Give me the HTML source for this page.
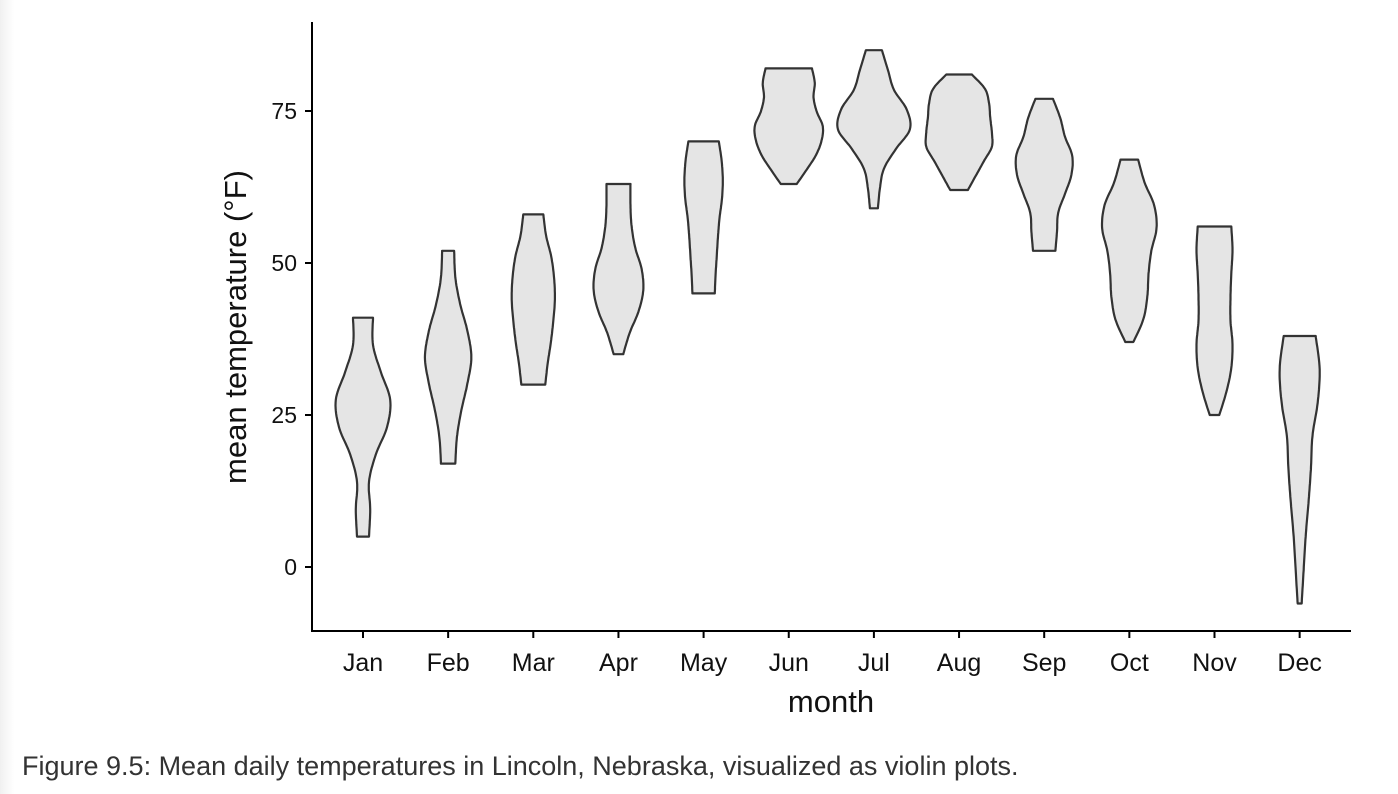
<!DOCTYPE html>
<html><head><meta charset="utf-8"><style>
body{margin:0;background:#fff;width:1398px;height:794px;overflow:hidden;position:relative;font-family:"Liberation Sans",sans-serif}
#shade{position:absolute;left:0;top:0;width:14px;height:794px;background:linear-gradient(to right,#f0f0f0,#fff)}
#cap{position:absolute;left:22px;top:751px;font-size:27px;color:#333;white-space:nowrap}
</style></head><body>
<div id="shade"></div>
<svg id="chart" width="1398" height="794" style="position:absolute;left:0;top:0"></svg>
<div id="cap">Figure 9.5: Mean daily temperatures in Lincoln, Nebraska, visualized as violin plots.</div>
<script>
const months=["Jan","Feb","Mar","Apr","May","Jun","Jul","Aug","Sep","Oct","Nov","Dec"];
const mins=[5,17,30,35,45,63,59,62,52,37,25,-6];
const maxs=[41,52,58,63,70,82,85,81,77,67,56,38];
const dJan=[0.15,0.18,0.15,0.32,0.6,0.68,0.45,0.25,0.25];
const dFeb=[0.18,0.22,0.33,0.48,0.58,0.48,0.3,0.18,0.15];
const dMar=[0.3,0.36,0.44,0.5,0.54,0.52,0.45,0.32,0.25];
const dApr=[0.12,0.28,0.5,0.62,0.58,0.42,0.33,0.3,0.3];
const dMay=[0.28,0.3,0.33,0.36,0.4,0.46,0.48,0.45,0.38];
const dJun=[0.2,0.45,0.68,0.82,0.85,0.7,0.62,0.65,0.58];
const dJul=[0.1,0.15,0.25,0.55,0.9,0.82,0.5,0.35,0.2];
const dAug=[0.22,0.42,0.62,0.82,0.82,0.78,0.75,0.65,0.32];
const dSep=[0.28,0.32,0.35,0.52,0.68,0.7,0.52,0.4,0.22];
const dOct=[0.1,0.35,0.45,0.48,0.55,0.68,0.62,0.38,0.22];
const dNov=[0.12,0.3,0.42,0.45,0.4,0.4,0.42,0.45,0.42];
const dDec=[0.05,0.1,0.15,0.22,0.28,0.32,0.45,0.5,0.4];
const dens=[dJan,dFeb,dMar,dApr,dMay,dJun,dJul,dAug,dSep,dOct,dNov,dDec];
const yTicks=[0,25,50,75];
const NS="http://www.w3.org/2000/svg";
const svg=document.getElementById('chart');
const y=v=>567-v*6.08;
const x=i=>363+i*85.15;
const W=40;
function mk(t,a,p){const e=document.createElementNS(NS,t);for(const k in a)e.setAttribute(k,a[k]);(p||svg).appendChild(e);return e;}
months.forEach((m,i)=>{
  const d=dens[i],n=d.length,lo=mins[i],hi=maxs[i];
  const pts=d.map((v,j)=>[v*W,y(lo+(hi-lo)*j/(n-1))]);
  const S=[];
  for(let j=0;j<n-1;j++){
    const p0=pts[Math.max(j-1,0)],p1=pts[j],p2=pts[j+1],p3=pts[Math.min(j+2,n-1)];
    for(let t=0;t<1;t+=0.1){
      const t2=t*t,t3=t2*t;
      const f=(a,b,c,dd)=>0.5*(2*b+(-a+c)*t+(2*a-5*b+4*c-dd)*t2+(-a+3*b-3*c+dd)*t3);
      S.push([f(p0[0],p1[0],p2[0],p3[0]),f(p0[1],p1[1],p2[1],p3[1])]);
    }
  }
  S.push(pts[n-1]);
  const cx=x(i);
  let dstr="M"+S.map(p=>(cx+p[0]).toFixed(1)+","+p[1].toFixed(1)).join("L");
  dstr+="L"+S.slice().reverse().map(p=>(cx-p[0]).toFixed(1)+","+p[1].toFixed(1)).join("L")+"Z";
  const el=mk('path',{d:dstr,fill:'#e5e5e5',stroke:'#333','stroke-width':2.2,'stroke-linejoin':'round'});
  
  
});
const ya=mk('line',{x1:312,y1:22,x2:312,y2:632,stroke:'#000','stroke-width':2});


const xa=mk('line',{x1:311,y1:631,x2:1351,y2:631,stroke:'#000','stroke-width':2});


yTicks.forEach(v=>{
  mk('line',{x1:305,y1:y(v),x2:312,y2:y(v),stroke:'#000','stroke-width':2});
  const t=mk('text',{x:297,y:y(v)+8,'text-anchor':'end','font-size':23,fill:'#111'});
  t.textContent=v;
  
  
});
months.forEach((m,i)=>{
  mk('line',{x1:x(i),y1:631,x2:x(i),y2:638,stroke:'#000','stroke-width':2});
  const t=mk('text',{x:x(i),y:671,'text-anchor':'middle','font-size':25,fill:'#111'});
  t.textContent=m;
  
  
});
const xt=mk('text',{x:831,y:712,'text-anchor':'middle','font-size':31,fill:'#111'});
xt.textContent='month';


const yt=mk('text',{x:0,y:0,'text-anchor':'middle','font-size':31,fill:'#111',transform:'translate(246,327) rotate(-90)'});
yt.textContent='mean temperature (°F)';


</script>
</body></html>
